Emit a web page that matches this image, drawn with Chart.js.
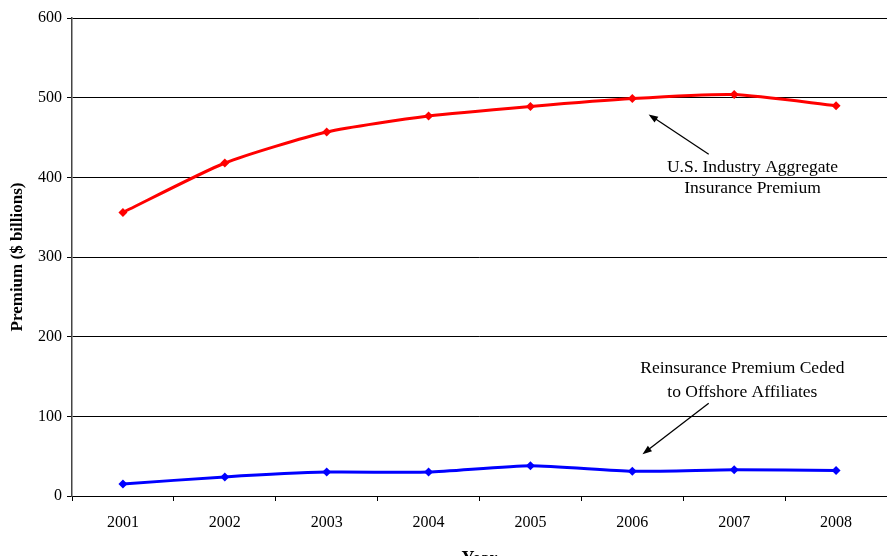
<!DOCTYPE html>
<html>
<head>
<meta charset="utf-8">
<script src="https://cdn.jsdelivr.net/npm/chart.js@4"></script>
<style>
  html, body { margin: 0; padding: 0; background: #fff; overflow: hidden; }
  #wrap { width: 887px; height: 556px; }
</style>
</head>
<body>
<div id="wrap"><canvas id="premiumChart"></canvas></div>
<script>
// ===== DATA =====
const years = ['2001', '2002', '2003', '2004', '2005', '2006', '2007', '2008'];
const aggregatePremium = [356, 418, 457, 477, 489, 499, 504, 490];
const cededPremium = [15, 24, 30, 30, 38, 31, 33, 32];
const yTicks = [0, 100, 200, 300, 400, 500, 600];

const serif = "'Liberation Serif', 'DejaVu Serif', serif";

// callouts: text + arrow, positioned in axis units (category index, value)
const callouts = [
    {
        lines: ['U.S. Industry Aggregate', 'Insurance Premium'],
        textX: 6.18, textY: [413, 386.5],
        from: [5.75, 429], to: [5.16, 479]
    },
    {
        lines: ['Reinsurance Premium Ceded', 'to Offshore Affiliates'],
        textX: 6.08, textY: [160.5, 130.5],
        from: [5.75, 116.5], to: [5.10, 52.5]
    }
];

const calloutPlugin = {
    id: 'callouts',
    afterDatasetsDraw(chart) {
        const ctx = chart.ctx;
        const xs = chart.scales.x, ys = chart.scales.y;
        ctx.save();
        ctx.fillStyle = '#000';
        ctx.strokeStyle = '#000';
        ctx.font = '17.5px ' + serif;
        ctx.textAlign = 'center';
        ctx.textBaseline = 'middle';
        callouts.forEach(function(c) {
            const tx = xs.getPixelForValue(c.textX);
            c.lines.forEach(function(line, i) {
                ctx.fillText(line, tx, ys.getPixelForValue(c.textY[i]));
            });
            const x1 = xs.getPixelForValue(c.from[0]), y1 = ys.getPixelForValue(c.from[1]);
            const x2 = xs.getPixelForValue(c.to[0]), y2 = ys.getPixelForValue(c.to[1]);
            const ang = Math.atan2(y2 - y1, x2 - x1);
            const head = 10;
            ctx.lineWidth = 1.3;
            ctx.beginPath();
            ctx.moveTo(x1, y1);
            ctx.lineTo(x2 - Math.cos(ang) * head * 0.8, y2 - Math.sin(ang) * head * 0.8);
            ctx.stroke();
            ctx.beginPath();
            ctx.moveTo(x2, y2);
            ctx.lineTo(x2 - head * Math.cos(ang - 0.35), y2 - head * Math.sin(ang - 0.35));
            ctx.lineTo(x2 - head * Math.cos(ang + 0.35), y2 - head * Math.sin(ang + 0.35));
            ctx.closePath();
            ctx.fill();
        });
        ctx.restore();
    }
};

const whiteBg = {
    id: 'whiteBg',
    beforeDraw(chart) {
        const ctx = chart.ctx;
        ctx.save();
        ctx.fillStyle = '#fff';
        ctx.fillRect(0, 0, chart.width, chart.height);
        ctx.restore();
    }
};

new Chart(document.getElementById('premiumChart'), {
    type: 'line',
    data: {
        labels: years,
        datasets: [
            {
                label: 'U.S. Industry Aggregate Insurance Premium',
                data: aggregatePremium,
                borderColor: '#ff0000',
                backgroundColor: '#ff0000',
                borderWidth: 3,
                pointStyle: 'rectRot',
                pointRadius: 4.5,
                pointBorderWidth: 0,
                tension: 0.2,
                fill: false
            },
            {
                label: 'Reinsurance Premium Ceded to Offshore Affiliates',
                data: cededPremium,
                borderColor: '#0000ff',
                backgroundColor: '#0000ff',
                borderWidth: 3,
                pointStyle: 'rectRot',
                pointRadius: 4.5,
                pointBorderWidth: 0,
                tension: 0.2,
                fill: false
            }
        ]
    },
    options: {
        responsive: true,
        maintainAspectRatio: false,
        animation: false,
        layout: { autoPadding: false, padding: { top: 18, right: 0, left: 0, bottom: 0 } },
        plugins: {
            legend: { display: false },
            tooltip: { enabled: false }
        },
        scales: {
            x: {
                offset: true,
                grid: {
                    offset: true,
                    drawOnChartArea: false,
                    drawTicks: true,
                    tickLength: 5,
                    color: '#000'
                },
                border: { color: '#000', width: 1 },
                ticks: {
                    color: '#000',
                    padding: 12,
                    maxRotation: 0,
                    font: { family: serif, size: 16 }
                },
                title: {
                    display: true,
                    text: 'Year',
                    color: '#000',
                    padding: { top: 0, bottom: -12 },
                    font: { family: serif, size: 18, weight: 'bold', lineHeight: 1 }
                },
                afterFit(scale) { scale.height = 60; }
            },
            y: {
                min: 0,
                max: 600,
                afterBuildTicks(scale) {
                    scale.ticks = yTicks.map(function(v) { return { value: v }; });
                },
                grid: {
                    color: '#000',
                    lineWidth: 1,
                    tickLength: 5
                },
                border: { color: '#444', width: 1.5 },
                ticks: {
                    color: '#000',
                    padding: 5,
                    font: { family: serif, size: 16 }
                },
                title: {
                    display: true,
                    text: 'Premium ($ billions)',
                    color: '#000',
                    padding: { top: 9, bottom: 0 },
                    font: { family: serif, size: 17, weight: 'bold', lineHeight: 1 }
                },
                afterFit(scale) { scale.width = 72; }
            }
        }
    },
    plugins: [whiteBg, calloutPlugin]
});
</script>
</body>
</html>
